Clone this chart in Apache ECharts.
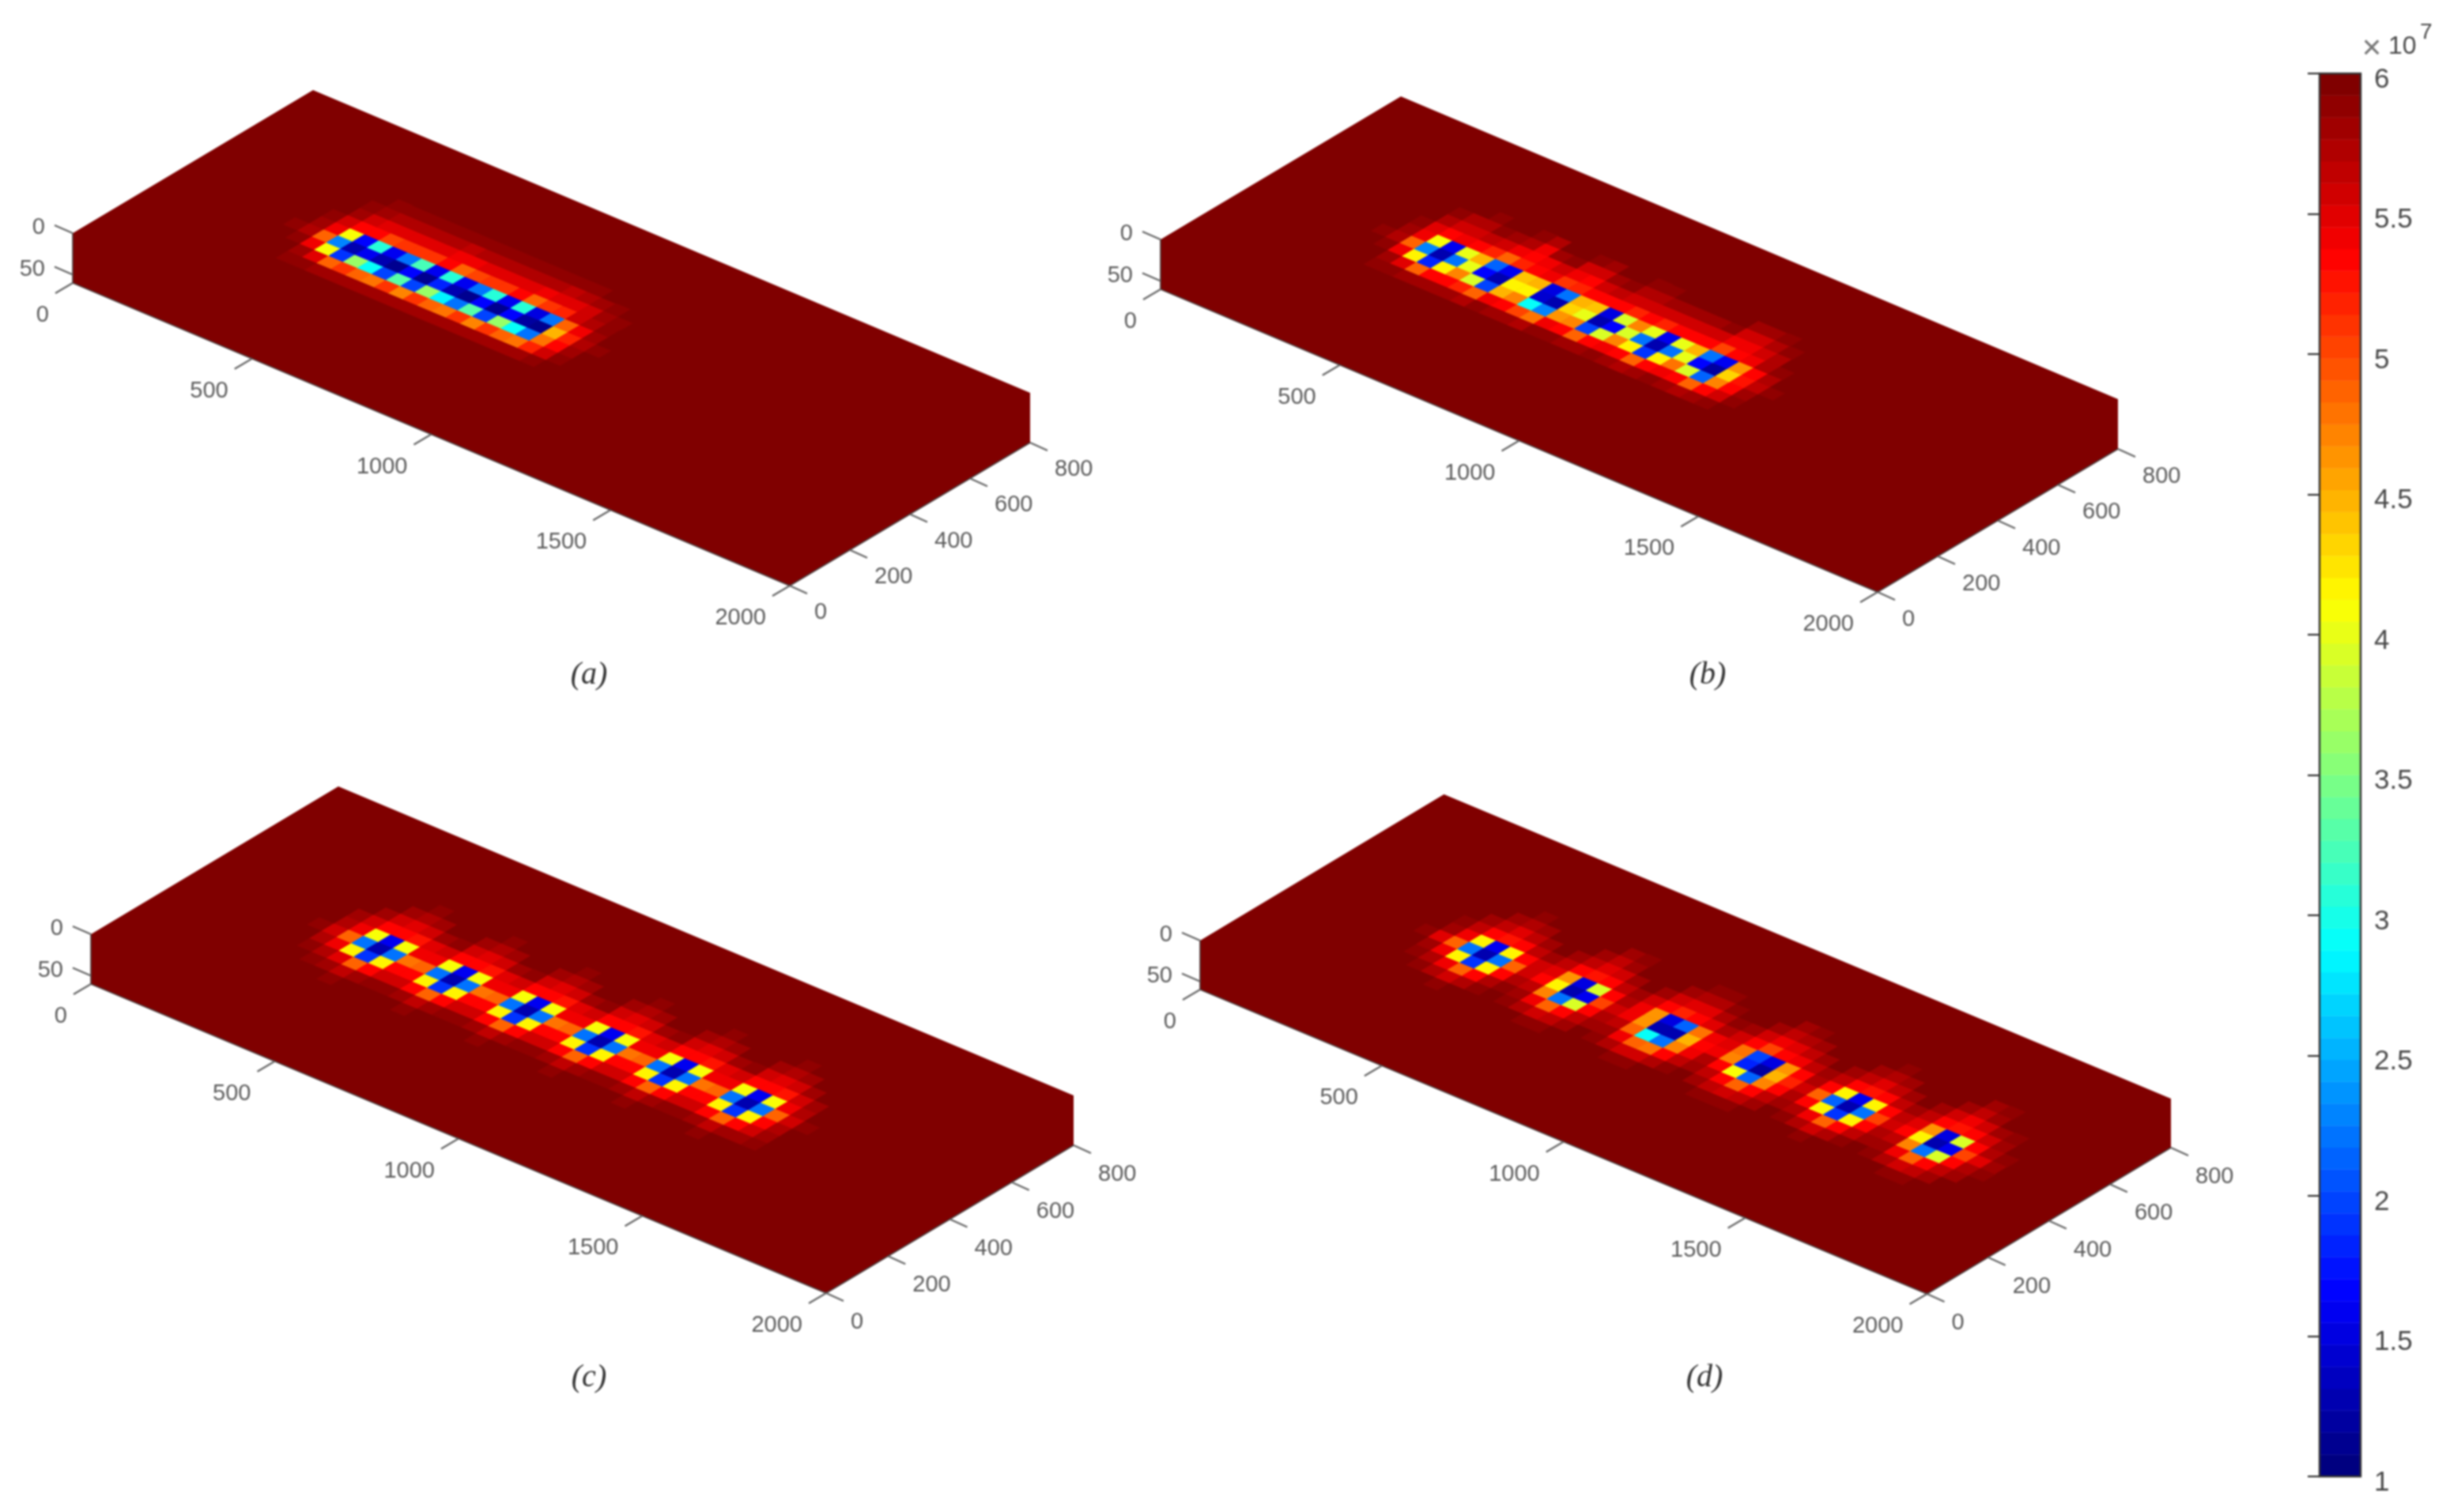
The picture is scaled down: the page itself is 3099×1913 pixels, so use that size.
<!DOCTYPE html>
<html>
<head>
<meta charset="utf-8">
<style>
html,body{margin:0;padding:0;background:#fff}
#c{width:3099px;height:1913px;filter:blur(0.9px)}
</style>
<script src="https://cdn.jsdelivr.net/npm/echarts@6/dist/echarts.min.js"></script>
</head>
<body>
<div id="c"></div>
<script>
// ---------- tick labels ----------
const xTicks = [0, 500, 1000, 1500, 2000];
const yTicks = [0, 200, 400, 600, 800];
const zTicks = [0, 50];
const captions = ['(a)', '(b)', '(c)', '(d)'];

// ---------- field values (×10^7); cells not listed are at the ceiling value ----------
const ceilingValue = 6;
const firstColumn = 8;   // first listed column of every row; each row is [rowIndex, values...]

const panelA = [
 [4, 6,6,6,5.97,5.95,5.96,5.96,5.95,5.96,5.96,5.95,5.96,5.96,5.95,5.96,5.96,5.95,5.96,5.96,6,6,6],
 [5, 6,5.96,5.9,5.85,5.8,5.8,5.8,5.8,5.82,5.78,5.8,5.8,5.78,5.8,5.78,5.8,5.8,5.78,5.82,5.88,5.95,6],
 [6, 5.97,5.93,5.8,5.5,4.9,5.1,4.9,4.8,5.1,4.7,5.1,4.9,4.8,5.1,4.7,5.1,4.9,4.8,5.2,5.6,5.85,5.97],
 [7, 5.96,5.85,5.4,4.1,1.9,3.6,2.9,2.0,3.3,2.0,3.6,2.8,2.2,3.3,2.0,3.6,2.9,2.2,4.8,5.35,5.78,5.95],
 [8, 5.9,5.7,4.9,2.3,1.3,1.6,1.3,1.1,1.7,1.1,1.8,1.3,1.1,1.7,1.1,1.7,1.2,1.1,4.5,5.2,5.7,5.92],
 [9, 5.95,5.78,5.4,4.1,1.7,3.1,1.6,2.2,3.2,1.6,3.1,1.6,2.2,3.1,1.6,3.1,1.5,2.2,4.85,5.45,5.8,5.95],
 [10, 6,5.9,5.6,5.35,5.35,5.0,5.1,5.1,5.1,5.3,4.9,5.0,5.1,5.1,5.3,4.9,5.1,5.2,5.55,5.75,5.88,5.97],
 [11, 6,5.96,5.8,5.55,5.5,5.5,5.5,5.5,5.5,5.45,5.45,5.5,5.5,5.5,5.5,5.45,5.5,5.5,5.6,5.8,5.92,6],
 [12, 6,6,5.92,5.8,5.7,5.7,5.7,5.75,5.7,5.68,5.7,5.75,5.7,5.7,5.75,5.7,5.68,5.7,5.78,5.88,5.96,6],
 [13, 6,6,6,5.92,5.85,5.88,5.9,5.9,5.9,5.88,5.9,5.9,5.9,5.9,5.9,5.88,5.9,5.9,5.94,6,6,6],
 [14, 6,6,6,6,5.95,5.97,5.97,5.97,5.97,5.95,5.97,5.97,5.97,5.97,5.97,5.95,5.97,5.97,6,6,6,6]
];

const panelB = [
 [4, 6,6,6,5.97,5.95,5.96,5.96,5.96,5.95,5.97,5.96,5.96,5.95,5.97,5.97,5.96,5.96,5.97,5.96,5.95,5.96,5.97,5.96,5.95,5.96,5.97,6,6],
 [5, 6,5.96,5.9,5.85,5.78,5.82,5.8,5.8,5.75,5.85,5.82,5.8,5.75,5.85,5.85,5.8,5.82,5.85,5.82,5.75,5.82,5.85,5.82,5.75,5.82,5.88,5.95,6],
 [6, 5.97,5.93,5.8,5.5,4.9,5.3,5.3,5.2,4.9,5.45,5.3,5.0,4.8,5.45,5.3,4.9,5.3,5.45,5.3,4.9,5.3,5.45,5.3,4.9,5.3,5.6,5.88,5.97],
 [7, 5.96,5.85,5.45,4.2,1.8,4.2,4.7,3.9,2.0,4.5,4.7,2.9,2.3,4.6,4.7,2.0,3.9,4.7,4.2,1.9,4.2,4.8,3.9,2.1,4.7,5.35,5.78,5.95],
 [8, 5.9,5.7,4.9,2.3,1.3,2.2,4.0,1.7,1.3,4.2,4.2,1.4,1.3,4.3,4.0,1.3,1.7,3.9,2.2,1.3,2.2,4.0,1.7,1.2,4.3,5.25,5.65,5.92],
 [9, 5.95,5.78,5.45,4.1,1.6,4.0,4.5,2.1,1.6,4.4,4.5,1.5,2.2,4.5,4.4,1.5,3.9,4.7,4.0,1.6,4.0,4.5,2.2,1.6,4.6,5.35,5.75,5.95],
 [10, 6,5.9,5.5,5.3,5.4,5.3,5.2,4.9,5.2,5.3,5.4,5.1,5.2,5.3,5.3,5.3,5.2,5.3,5.2,5.3,5.3,5.3,5.0,5.3,5.45,5.72,5.9,6],
 [11, 6,5.96,5.72,5.55,5.55,5.65,5.55,5.45,5.3,5.45,5.6,5.45,5.3,5.55,5.65,5.55,5.55,5.55,5.55,5.55,5.55,5.55,5.45,5.45,5.55,5.75,5.95,6],
 [12, 6,6,5.88,5.75,5.7,5.85,5.8,5.7,5.45,5.8,5.85,5.6,5.6,5.8,5.9,5.7,5.7,5.8,5.8,5.8,5.8,5.85,5.6,5.6,5.7,5.9,6,6],
 [13, 6,6,5.96,5.93,5.87,5.95,5.95,5.9,5.7,5.93,5.98,5.87,5.82,5.95,5.98,5.9,5.87,5.95,5.95,5.95,5.95,5.95,5.82,5.82,5.9,6,6,6],
 [14, 6,6,6,6,5.96,6,6,6,5.93,6,6,5.96,5.93,6,6,6,5.96,6,6,6,6,6,5.96,5.93,6,6,6,6]
];

const panelC = [
 [4, 6,6,6,5.97,5.9,5.95,6,6,5.96,5.9,5.95,6,6,5.96,5.9,5.95,6,6,5.96,5.9,5.95,6,6,5.96,5.9,5.95,6,6,5.96,5.9,5.95,5.97,6,6],
 [5, 6,5.96,5.9,5.78,5.68,5.78,5.9,5.9,5.78,5.68,5.78,5.9,5.9,5.78,5.68,5.78,5.9,5.9,5.78,5.68,5.78,5.9,5.9,5.78,5.68,5.78,5.9,5.9,5.78,5.68,5.78,5.84,5.92,5.97],
 [6, 5.97,5.9,5.74,5.5,4.9,5.35,5.6,5.6,5.35,4.9,5.35,5.6,5.6,5.35,4.9,5.35,5.6,5.6,5.35,4.9,5.35,5.6,5.6,5.35,4.9,5.35,5.6,5.6,5.35,4.9,5.35,5.6,5.8,5.95],
 [7, 5.95,5.74,5.4,4.15,1.9,4.15,5.35,5.35,4.15,1.9,4.15,5.35,5.35,4.15,1.9,4.15,5.35,5.35,4.15,1.9,4.15,5.35,5.35,4.15,1.9,4.15,5.35,5.35,4.15,1.9,4.15,5.35,5.74,5.95],
 [8, 5.9,5.55,4.9,2.2,1.3,2.2,4.8,4.85,2.2,1.3,2.2,4.8,4.85,2.2,1.3,2.2,4.8,4.85,2.2,1.3,2.2,4.8,4.85,2.2,1.3,2.2,4.8,4.85,2.2,1.3,2.2,4.9,5.55,5.92],
 [9, 5.95,5.74,5.4,4.1,1.6,4.1,5.4,5.4,4.1,1.6,4.1,5.4,5.4,4.1,1.6,4.1,5.4,5.4,4.1,1.6,4.1,5.4,5.4,4.1,1.6,4.1,5.4,5.4,4.1,1.6,4.1,5.4,5.74,5.95],
 [10, 6,5.84,5.6,5.3,5.3,5.25,5.5,5.6,5.3,5.3,5.25,5.5,5.6,5.3,5.3,5.25,5.5,5.6,5.3,5.3,5.25,5.5,5.6,5.3,5.3,5.25,5.5,5.6,5.3,5.3,5.25,5.6,5.84,5.97],
 [11, 6,5.95,5.84,5.6,5.5,5.6,5.84,5.92,5.6,5.5,5.6,5.84,5.92,5.6,5.5,5.6,5.84,5.92,5.6,5.5,5.6,5.84,5.92,5.6,5.5,5.6,5.84,5.92,5.6,5.5,5.6,5.84,5.95,6],
 [12, 6,6,5.95,5.84,5.74,5.84,5.97,6,5.84,5.74,5.84,5.97,6,5.84,5.74,5.84,5.97,6,5.84,5.74,5.84,5.97,6,5.84,5.74,5.84,5.97,6,5.84,5.74,5.84,5.95,6,6],
 [13, 6,6,6,5.95,5.88,5.95,6,6,5.95,5.88,5.95,6,6,5.95,5.88,5.95,6,6,5.95,5.88,5.95,6,6,5.95,5.88,5.95,6,6,5.95,5.88,5.95,6,6,6],
 [14, 6,6,6,6,5.96,6,6,6,6,5.96,6,6,6,6,5.96,6,6,6,6,5.96,6,6,6,6,5.96,6,6,6,6,5.96,6,6,6,6]
];

const panelD = [
 [4, 6,6,5.97,5.95,5.88,5.95,5.97,6,6,5.95,5.88,5.92,5.97,6,6,5.95,5.88,5.88,5.95,6,6,5.97,5.92,5.88,5.92,5.97,6,5.97,5.95,5.88,5.95,5.97,6,6,5.95,5.88,5.92,5.97,6,6,6],
 [5, 6,5.97,5.88,5.74,5.6,5.74,5.88,5.95,5.92,5.74,5.6,5.68,5.84,5.95,5.92,5.74,5.6,5.6,5.74,5.88,5.95,5.84,5.68,5.6,5.68,5.84,5.95,5.88,5.74,5.6,5.74,5.88,5.95,5.92,5.74,5.6,5.68,5.84,5.95,6,6],
 [6, 6,5.88,5.74,5.45,4.9,5.3,5.74,5.88,5.8,5.45,4.9,5.3,5.68,5.84,5.84,5.45,4.9,4.8,5.3,5.68,5.84,5.68,5.3,4.9,5.3,5.68,5.84,5.74,5.45,4.9,5.3,5.68,5.84,5.8,5.45,4.9,5.3,5.68,5.84,5.95,6],
 [7, 5.97,5.8,5.4,4.2,1.9,4.2,5.3,5.74,5.68,4.7,2.2,3.9,5.3,5.74,5.68,4.9,2.9,2.2,4.7,5.4,5.74,5.3,4.1,2.1,4.7,5.35,5.74,5.35,4.2,1.9,4.2,5.3,5.74,5.68,4.7,2.2,3.9,5.3,5.74,5.92,6],
 [8, 5.92,5.5,4.9,2.2,1.3,2.2,4.9,5.6,5.3,4.2,1.3,1.6,5.0,5.6,5.4,4.6,1.3,1.3,4.5,5.35,5.4,4.7,1.8,1.2,4.5,5.2,5.6,4.9,2.1,1.3,2.2,5.0,5.6,5.35,4.2,1.3,1.6,5.0,5.5,5.84,5.97],
 [9, 5.97,5.8,5.4,4.2,1.6,4.2,5.3,5.6,5.5,4.6,1.5,3.9,5.3,5.74,5.4,4.6,1.5,2.1,4.8,5.4,5.5,4.8,2.0,1.5,4.6,5.3,5.74,5.35,4.2,1.6,4.2,5.3,5.68,5.5,4.6,1.5,3.9,5.3,5.74,5.92,6],
 [10, 6,5.88,5.68,5.35,5.25,5.3,5.68,5.84,5.68,5.3,5.25,5.3,5.68,5.84,5.6,5.3,5.2,5.3,5.5,5.74,5.6,5.3,5.0,5.3,5.4,5.68,5.84,5.68,5.35,5.25,5.3,5.68,5.84,5.68,5.3,5.25,5.3,5.6,5.84,5.95,6],
 [11, 6,5.95,5.84,5.68,5.5,5.68,5.84,5.95,5.84,5.68,5.5,5.6,5.84,5.95,5.84,5.6,5.5,5.5,5.74,5.88,5.84,5.6,5.4,5.5,5.68,5.84,5.95,5.84,5.68,5.5,5.68,5.84,5.95,5.84,5.6,5.45,5.6,5.84,5.92,5.97,6],
 [12, 6,6,5.95,5.84,5.74,5.84,5.95,6,5.95,5.84,5.68,5.8,5.95,6,5.95,5.84,5.74,5.74,5.88,5.97,5.95,5.84,5.68,5.74,5.84,5.95,6,5.95,5.84,5.74,5.84,5.95,6,5.95,5.84,5.68,5.8,5.95,6,6,6],
 [13, 6,6,6,5.95,5.88,5.95,6,6,6,5.95,5.84,5.92,6,6,6,5.95,5.88,5.88,5.97,6,6,5.95,5.84,5.88,5.95,6,6,6,5.95,5.88,5.95,6,6,6,5.95,5.84,5.92,6,6,6,6],
 [14, 6,6,6,6,5.96,6,6,6,6,6,5.96,6,6,6,6,6,5.96,5.96,6,6,6,6,5.96,5.96,6,6,6,6,6,5.96,6,6,6,6,6,5.96,6,6,6,6,6]
];

// ---------- layout ----------
const cellSize = 40, xCells = 50, yCells = 20, depth = 60;
const layouts = [
 {p0:[92,295],   vx:[907,383],   vy:[304,-181],   dz:63, cap:[745,854],   yDy:-3},
 {p0:[1468,303], vx:[907,383],   vy:[304,-181],   dz:63, cap:[2160,854],  yDy:-2},
 {p0:[115,1182], vx:[930,391],   vy:[313,-187],   dz:63, cap:[745,1743],  yDy:0},
 {p0:[1518,1190],vx:[919.5,385], vy:[308.5,-185], dz:62, cap:[2156,1743], yDy:0}
];
const panels = [panelA, panelB, panelC, panelD];
const FONT = '"Liberation Sans", Arial, sans-serif';
const AXIS_TEXT = '#5c5c5c', AXIS_LINE = '#666';
const xLabelOff = [-30, 41], yLabelOff = [31, 37], zLabelOff = [-35, -7];
const xTickVec = [-22, 13], yTickVec = [22, 10], zTickVec = [-23, -10];

// ---------- jet colour map, 64 levels as on the colour bar ----------
const levels = 64, cMin = 1, cMax = 6;
function jet(k) {
  const t = k / (levels - 1);
  const f = c => Math.round(255 * Math.max(0, Math.min(1, 1.5 - Math.abs(4 * t - c))));
  return 'rgb(' + f(3) + ',' + f(2) + ',' + f(1) + ')';
}
function colorOf(v) {
  const k = Math.min(levels - 1, Math.max(0, Math.floor((v - cMin) / (cMax - cMin) * levels)));
  return jet(k);
}

function cellData(rows) {
  const lookup = {};
  rows.forEach(r => r.slice(1).forEach((v, n) => { lookup[r[0] + '_' + (firstColumn + n)] = v; }));
  const out = [];
  for (let j = 0; j < yCells; j++) for (let i = 0; i < xCells; i++) {
    const v = lookup[j + '_' + i];
    out.push([i * cellSize, j * cellSize, v === undefined ? ceilingValue : v]);
  }
  return out;
}

// grids are rectangles in (x,y) data; the affine step below tilts them into the oblique view
const gridBox = i => ({left: layouts[i].p0[0], top: layouts[i].p0[1] - 200, width: 900, height: 400, show: false});
function projector(idx, api) {
  const L = layouts[idx], b = gridBox(idx);
  return function (x, y, z) {
    const c = api.coord([x, y]);
    const nx = (c[0] - b.left) / b.width, ny = (b.top + b.height - c[1]) / b.height;
    return [L.p0[0] + nx * L.vx[0] + ny * L.vy[0],
            L.p0[1] + nx * L.vx[1] + ny * L.vy[1] + (z || 0) / depth * L.dz];
  };
}

function cellSeries(idx) {
  return {
    type: 'custom', coordinateSystem: 'cartesian2d', xAxisIndex: idx, yAxisIndex: idx, z: 3,
    silent: true, clip: false, animation: false,
    data: cellData(panels[idx]),
    encode: {x: 0, y: 1},
    renderItem(params, api) {
      const P = projector(idx, api), x = api.value(0), y = api.value(1), v = api.value(2);
      if (v >= ceilingValue) return null;   // ceiling cells are covered by the base surface below
      const col = colorOf(v);
      return {type: 'polygon',
        shape: {points: [P(x, y), P(x + cellSize, y), P(x + cellSize, y + cellSize), P(x, y + cellSize)]},
        style: {fill: col, stroke: col, lineWidth: 0.8}};
    }
  };
}

// kinds: 0 box silhouette, 2 x tick, 3 y tick, 4 z tick, 5 edges
function frameSeries(idx) {
  const data = [[0, 0], [5, 0]];
  xTicks.forEach(v => data.push([2, v]));
  yTicks.forEach(v => data.push([3, v]));
  zTicks.forEach(v => data.push([4, v]));
  const XM = xTicks[xTicks.length - 1], YM = yTicks[yTicks.length - 1];
  const faceColor = colorOf(ceilingValue);
  const tick = (from, vec, off, txt, align) => ({type: 'group', children: [
    {type: 'line', shape: {x1: from[0], y1: from[1], x2: from[0] + vec[0], y2: from[1] + vec[1]},
     style: {stroke: AXIS_LINE, lineWidth: 2.2}},
    {type: 'text', style: {x: from[0] + off[0], y: from[1] + off[1], text: String(txt), fill: AXIS_TEXT,
      font: '29px ' + FONT, align: align, verticalAlign: 'middle'}}
  ]});
  return {
    type: 'custom', coordinateSystem: 'cartesian2d', xAxisIndex: idx, yAxisIndex: idx, z: 2,
    silent: true, clip: false, animation: false, data: data, encode: {x: 0, y: 1},
    renderItem(params, api) {
      const P = projector(idx, api), kind = api.value(0), v = api.value(1);
      if (kind === 0) return {type: 'polygon',
        shape: {points: [P(0,0,0), P(0,YM,0), P(XM,YM,0), P(XM,YM,depth), P(XM,0,depth), P(0,0,depth)]},
        style: {fill: faceColor}};
      if (kind === 5) return {type: 'polyline',
        shape: {points: [P(0,0,0), P(0,0,depth), P(XM,0,depth), P(XM,YM,depth)]},
        style: {stroke: '#4a3a3a', lineWidth: 1.6, fill: 'none'}};
      if (kind === 2) return tick(P(v,0,depth), xTickVec, xLabelOff, v, 'right');
      if (kind === 3) return tick(P(XM,v,depth), yTickVec, [yLabelOff[0], yLabelOff[1] + layouts[idx].yDy], v, 'left');
      return tick(P(0,0,v), zTickVec, zLabelOff, v, 'right');
    }
  };
}

// ---------- colour bar ----------
const bandEdges = [];
for (let k = 0; k < levels; k++) bandEdges.push([k, cMin + (cMax - cMin) * k / levels, cMin + (cMax - cMin) * (k + 1) / levels]);
const cbIndex = 4;
const cbarSeries = {
  type: 'custom', coordinateSystem: 'cartesian2d', xAxisIndex: cbIndex, yAxisIndex: cbIndex, z: 2,
  silent: true, animation: false, data: bandEdges, encode: {y: 1},
  renderItem(params, api) {
    const a = api.coord([0, api.value(1)]), b = api.coord([1, api.value(2)]), col = jet(api.value(0));
    return {type: 'rect', shape: {x: a[0], y: b[1], width: b[0] - a[0], height: a[1] - b[1]},
      style: {fill: col, stroke: col, lineWidth: 0.5}};
  }
};
const cbarFrame = {
  type: 'custom', coordinateSystem: 'cartesian2d', xAxisIndex: cbIndex, yAxisIndex: cbIndex, z: 3,
  silent: true, animation: false, data: [[0, cMin]], encode: {y: 1},
  renderItem(params, api) {
    const a = api.coord([0, cMin]), b = api.coord([1, cMax]);
    return {type: 'rect', shape: {x: a[0], y: b[1], width: b[0] - a[0], height: a[1] - b[1]},
      style: {fill: 'none', stroke: '#333', lineWidth: 2.4}};
  }
};

// ---------- option ----------
const grids = [0,1,2,3].map(gridBox);
grids.push({left: 2934, top: 93, width: 52, height: 1775, show: false});
const hiddenAxis = (max) => ({type: 'value', min: 0, max: max, show: false});
const xAxes = [0,1,2,3].map(i => Object.assign(hiddenAxis(2000), {gridIndex: i}));
const yAxes = [0,1,2,3].map(i => Object.assign(hiddenAxis(800), {gridIndex: i}));
xAxes.push(Object.assign(hiddenAxis(1), {gridIndex: cbIndex}));
yAxes.push({type: 'value', gridIndex: cbIndex, min: cMin, max: cMax, interval: 0.5, position: 'right', z: 6,
  axisLine: {show: false},
  axisTick: {show: true, inside: true, length: 15, lineStyle: {color: '#333', width: 2.2}},
  splitLine: {show: false},
  axisLabel: {show: true, margin: 17, formatter: v => '{l|' + v + '}',
    rich: {l: {color: '#4a4a4a', fontSize: 35, fontFamily: FONT, padding: [16, 0, 0, 0]}}}});

const textEl = (text, x, y, font, fill, align) => ({type: 'text', x: x, y: y, z: 10, silent: true,
  style: {text: text, font: font, fill: fill, align: align, verticalAlign: 'middle'}});
const graphics = captions.map((c, i) => textEl(c, layouts[i].cap[0], layouts[i].cap[1],
  'italic 40px "Liberation Serif", serif', '#333', 'center'));
graphics.push(textEl('×', 3000, 62, '42px ' + FONT, '#777', 'center'));
graphics.push(textEl('10', 3021, 59, '32px ' + FONT, '#4a4a4a', 'left'));
graphics.push(textEl('7', 3061, 41, '28px ' + FONT, '#4a4a4a', 'left'));

const series = [];
[0,1,2,3].forEach(i => { series.push(frameSeries(i)); series.push(cellSeries(i)); });
series.push(cbarSeries, cbarFrame);

const chart = echarts.init(document.getElementById('c'), null, {renderer: 'canvas', width: 3099, height: 1913});
chart.setOption({
  backgroundColor: '#fff', animation: false, tooltip: {show: false},
  grid: grids, xAxis: xAxes, yAxis: yAxes, series: series, graphic: {elements: graphics}
});
</script>
</body>
</html>
